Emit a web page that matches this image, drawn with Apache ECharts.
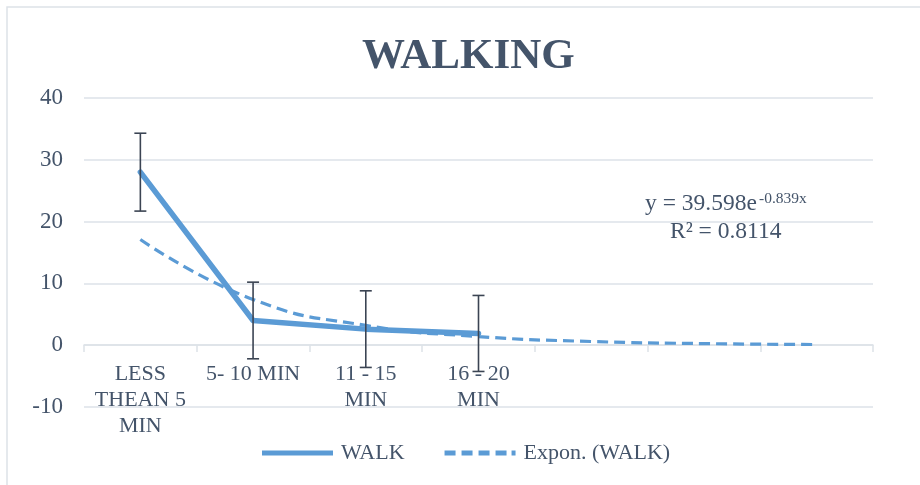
<!DOCTYPE html>
<html>
<head>
<meta charset="utf-8">
<script src="https://cdn.jsdelivr.net/npm/echarts@6/dist/echarts.min.js"></script>
<style>html,body{margin:0;padding:0;background:#fff;}#c{width:920px;height:485px;}</style>
</head>
<body>
<div id="c"></div>
<script>
var categories = ['LESS\nTHEAN 5\nMIN', '5- 10 MIN', '11 - 15\nMIN', '16 - 20\nMIN', '', '', ''];
var walk = [28, 4, 2.6, 1.9];
var walkErr = [6.3, 6.2, 6.2, 6.15];
var trend = [17.1, 7.4, 3.2, 1.4, 0.6, 0.26, 0.11];
var yTicks = {min: -10, max: 40, interval: 10};

var textColor = '#44546A';
var font = 'Liberation Serif';
var blue = '#5B9BD5';
var gridColor = '#DDE2E8';

var errData = walk.map(function (v, i) { return [i, v - walkErr[i], v + walkErr[i]]; });

var chart = echarts.init(document.getElementById('c'));
chart.setOption({
  animation: false,
  title: {
    text: 'WALKING', left: 357, top: 30,
    textStyle: {fontFamily: font, fontSize: 43, fontWeight: 'bold', color: textColor}
  },
  grid: {left: 84, right: 47, top: 98, bottom: 78, containLabel: false, outerBoundsMode: 'none'},
  legend: {
    left: 262, top: 442, padding: 0, itemWidth: 71, itemHeight: 5, itemGap: 40,
    textStyle: {fontFamily: font, fontSize: 22, color: textColor, padding: [0, 0, 0, 3]},
    data: [
      {name: 'WALK', icon: 'path://M0 0h71v5h-71z'},
      {name: 'Expon. (WALK)', icon: 'path://M0 0h11v5h-11zM17 0h11v5h-11zM34 0h11v5h-11zM51 0h11v5h-11zM67 0h4v5h-4z'}
    ]
  },
  xAxis: {
    type: 'category', data: categories, boundaryGap: true, offset: -62,
    axisLine: {show: true, onZero: false, lineStyle: {color: gridColor, width: 1.5}},
    axisTick: {show: true, length: 7, lineStyle: {color: gridColor, width: 1.5}},
    axisLabel: {interval: 0, margin: 16, fontFamily: font, fontSize: 22, color: textColor, lineHeight: 26},
    splitLine: {show: false}
  },
  yAxis: {
    type: 'value', min: yTicks.min, max: yTicks.max, interval: yTicks.interval,
    axisLine: {show: false}, axisTick: {show: false},
    axisLabel: {margin: 21, fontFamily: font, fontSize: 23, color: textColor},
    splitLine: {lineStyle: {color: gridColor, width: 1.5}}
  },
  series: [
    {
      name: 'WALK', type: 'line', data: walk, symbol: 'none', z: 3,
      lineStyle: {color: blue, width: 5.5, cap: 'round', join: 'round'},
      itemStyle: {color: blue}
    },
    {
      name: 'Expon. (WALK)', type: 'line', data: trend, symbol: 'none', smooth: true, z: 2,
      lineStyle: {color: blue, width: 3.2, type: [11, 6]},
      itemStyle: {color: blue}
    },
    {
      name: 'err', type: 'custom', z: 5, data: errData,
      renderItem: function (params, api) {
        var x = api.value(0);
        var lo = api.coord([x, api.value(1)]);
        var hi = api.coord([x, api.value(2)]);
        var hw = 6;
        var st = {stroke: '#3B4453', lineWidth: 1.6};
        return {
          type: 'group',
          children: [
            {type: 'line', shape: {x1: hi[0], y1: hi[1], x2: lo[0], y2: lo[1]}, style: st},
            {type: 'line', shape: {x1: hi[0] - hw, y1: hi[1], x2: hi[0] + hw, y2: hi[1]}, style: st},
            {type: 'line', shape: {x1: lo[0] - hw, y1: lo[1], x2: lo[0] + hw, y2: lo[1]}, style: st}
          ]
        };
      }
    }
  ],
  graphic: [
    {type: 'rect', shape: {x: 7, y: 7, width: 930, height: 500}, style: {fill: 'none', stroke: '#DDE2E8', lineWidth: 1.5}, silent: true},
    {
      type: 'text', x: 645, y: 192, z: 10,
      style: {text: 'y = 39.598e', fontFamily: font, fontSize: 23.5, fill: textColor}
    },
    {
      type: 'text', x: 759, y: 191, z: 10,
      style: {text: '-0.839x', fontFamily: font, fontSize: 15.5, fill: textColor}
    },
    {
      type: 'text', x: 670, y: 220, z: 10,
      style: {text: 'R² = 0.8114', fontFamily: font, fontSize: 23.5, fill: textColor}
    }
  ]
});
</script>
</body>
</html>
